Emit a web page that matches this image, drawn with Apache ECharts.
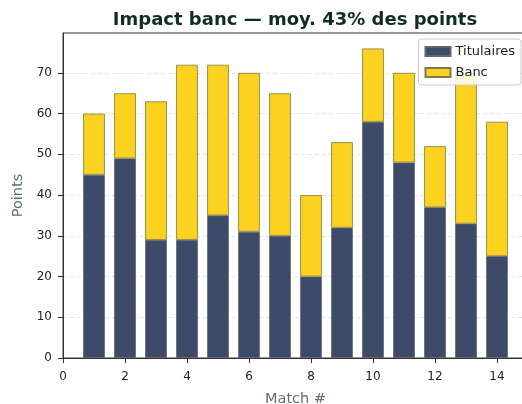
<!DOCTYPE html>
<html>
<head>
<meta charset="utf-8">
<script src="https://cdn.jsdelivr.net/npm/echarts@6/dist/echarts.min.js"></script>
<style>html,body{margin:0;padding:0;background:#fff}#c{width:522px;height:404px}</style>
</head>
<body>
<div id="c"></div>
<script>
const matches = [1,2,3,4,5,6,7,8,9,10,11,12,13,14];
const titulaires = [45,49,29,29,35,31,30,20,32,58,48,37,33,25];
const banc = [15,16,34,43,37,39,35,20,21,18,22,15,37,33];
const yTicks = [0,10,20,30,40,50,60,70];
const xTicks = [0,2,4,6,8,10,12,14];

// x slots 0..15 (category axis with boundaryGap false lines up like a numeric axis)
const slots = Array.from({length: 16}, (_, i) => i);
const valAt = (arr) => slots.map(s => { const k = matches.indexOf(s); return k < 0 ? null : arr[k]; });

const font = 'DejaVu Sans';
const chart = echarts.init(document.getElementById('c'));
chart.setOption({
  animation: false,
  backgroundColor: '#fff',
  title: {
    text: 'Impact banc — moy. 43% des points',
    left: 290, top: 6, textAlign: 'center',
    textStyle: {fontFamily: font, fontSize: 18, fontWeight: 'bold', color: '#0f2e1e'}
  },
  legend: {
    orient: 'vertical', right: 1, top: 39,
    icon: 'rect',
    itemWidth: 25, itemHeight: 9, itemGap: 8,
    padding: [6, 6, 6, 6],
    borderColor: '#cccccc', borderWidth: 1, borderRadius: 3,
    backgroundColor: 'rgba(255,255,255,0.85)',
    textStyle: {fontFamily: font, fontSize: 13, color: '#222'},
    data: ['Titulaires', 'Banc']
  },
  grid: {left: 63, right: -6, top: 33, bottom: 46, outerBoundsMode: 'none', containLabel: false,
    show: true, borderColor: '#333', borderWidth: 1, backgroundColor: 'transparent'},
  xAxis: {
    type: 'category', data: slots, boundaryGap: false,
    name: 'Match #', nameLocation: 'middle', nameGap: 34,
    nameTextStyle: {fontFamily: font, fontSize: 14.5, color: '#5f6f6f'},
    axisLine: {lineStyle: {color: '#333'}},
    axisTick: {show: true, length: 5, interval: (i, v) => xTicks.includes(Number(v)), lineStyle: {color: '#333'}},
    axisLabel: {fontFamily: font, fontSize: 12, color: '#222', margin: 13,
      interval: (i, v) => xTicks.includes(Number(v))},
    splitLine: {show: false}
  },
  yAxis: {
    type: 'value', min: 0, max: 79.8, interval: 10,
    name: 'Points', nameLocation: 'middle', nameGap: 33,
    nameTextStyle: {fontFamily: font, fontSize: 14.5, color: '#5f6f6f'},
    axisLine: {show: true, lineStyle: {color: '#333'}},
    axisTick: {show: true, length: 5, lineStyle: {color: '#333'}},
    axisLabel: {fontFamily: font, fontSize: 12, color: '#222', margin: 11, showMaxLabel: false,
      formatter: v => yTicks.includes(v) ? String(v) : ''},
    splitLine: {show: true, showMaxLine: false, showMinLine: false, lineStyle: {color: '#e3e3e3', type: [4, 3], width: 1}}
  },
  series: [
    {
      name: 'Titulaires', type: 'bar', stack: 's', barWidth: '70%',
      itemStyle: {color: '#3d4a68', borderColor: '#5e6672', borderWidth: 0.8},
      data: valAt(titulaires)
    },
    {
      name: 'Banc', type: 'bar', stack: 's', barWidth: '70%',
      itemStyle: {color: '#fbd21f', borderColor: '#7f7a4a', borderWidth: 0.8},
      data: valAt(banc)
    }
  ]
});
</script>
</body>
</html>
